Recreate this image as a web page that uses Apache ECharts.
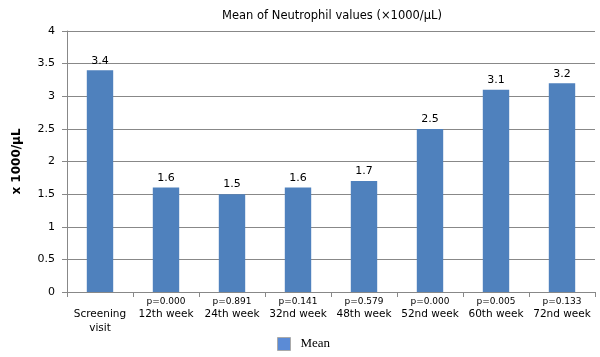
<!DOCTYPE html>
<html>
<head>
<meta charset="utf-8">
<script src="https://cdn.jsdelivr.net/npm/echarts@6/dist/echarts.min.js"></script>
<style>
html, body { margin: 0; padding: 0; background: #fff; }
#main { width: 600px; height: 357px; }
</style>
</head>
<body>
<div id="main"></div>
<script>
// categories and p values under the x axis
var categories = ['Screening visit', '12th week', '24th week', '32nd week', '48th week', '52nd week', '60th week', '72nd week'];
var pValues = ['', 'p=0.000', 'p=0.891', 'p=0.141', 'p=0.579', 'p=0.000', 'p=0.005', 'p=0.133'];
var meanValues = [3.4, 1.6, 1.5, 1.6, 1.7, 2.5, 3.1, 3.2];
var yTicks = [0, 0.5, 1, 1.5, 2, 2.5, 3, 3.5, 4];

var myChart = echarts.init(document.getElementById('main'));
var option = {
    animation: false,
    textStyle: { fontFamily: 'DejaVu Sans, Verdana, sans-serif' },
    title: {
        text: 'Mean of Neutrophil values (×1000/µL)',
        left: 327,
        textAlign: 'center',
        top: 5,
        textStyle: { fontSize: 11.5, fontWeight: 'normal', color: '#000' }
    },
    legend: {
        top: 332,
        left: 272,
        itemWidth: 13,
        itemHeight: 13,
        itemGap: 6,
        textStyle: { fontFamily: 'Liberation Serif, Times New Roman, serif', fontSize: 13, color: '#000', padding: [0, 0, 0, 5] },
        data: [{ name: 'Mean', icon: 'rect', itemStyle: { color: '#5B8BD6', borderColor: '#aaa', borderWidth: 1 } }]
    },
    grid: {
        left: 67,
        right: 5,
        top: 31,
        bottom: 65
    },
    xAxis: {
        type: 'category',
        data: categories,
        axisLine: { lineStyle: { color: '#888' } },
        axisTick: { show: true, length: 5, lineStyle: { color: '#888' } },
        axisLabel: {
            interval: 0,
            margin: 4,
            color: '#000',
            fontSize: 10.5,
            lineHeight: 14,
            formatter: function(value, idx) {
                if (idx === 0) {
                    return '{p| }\nScreening\nvisit';
                }
                return '{p|' + pValues[idx] + '}\n' + value;
            },
            rich: {
                p: { fontSize: 9, lineHeight: 11, color: '#000' }
            }
        }
    },
    yAxis: {
        type: 'value',
        min: 0,
        max: 4,
        interval: 0.5,
        name: 'x 1000/µL',
        nameLocation: 'middle',
        nameGap: 44,
        nameTextStyle: { fontSize: 12, fontWeight: 'bold', color: '#000' },
        axisLine: { show: true, lineStyle: { color: '#888' } },
        axisTick: { show: true, length: 5, lineStyle: { color: '#888' } },
        splitLine: { show: true, lineStyle: { color: '#888' } },
        axisLabel: {
            color: '#000',
            fontSize: 11,
            margin: 12,
            formatter: function(v) {
                return yTicks.indexOf(v) >= 0 ? String(v) : '';
            }
        }
    },
    series: [{
        name: 'Mean',
        type: 'bar',
        data: meanValues,
        barWidth: '40%',
        itemStyle: { color: '#4F81BD' },
        label: {
            show: true,
            position: 'top',
            distance: 4,
            color: '#000',
            fontSize: 11
        }
    }]
};
myChart.setOption(option);
</script>
</body>
</html>
